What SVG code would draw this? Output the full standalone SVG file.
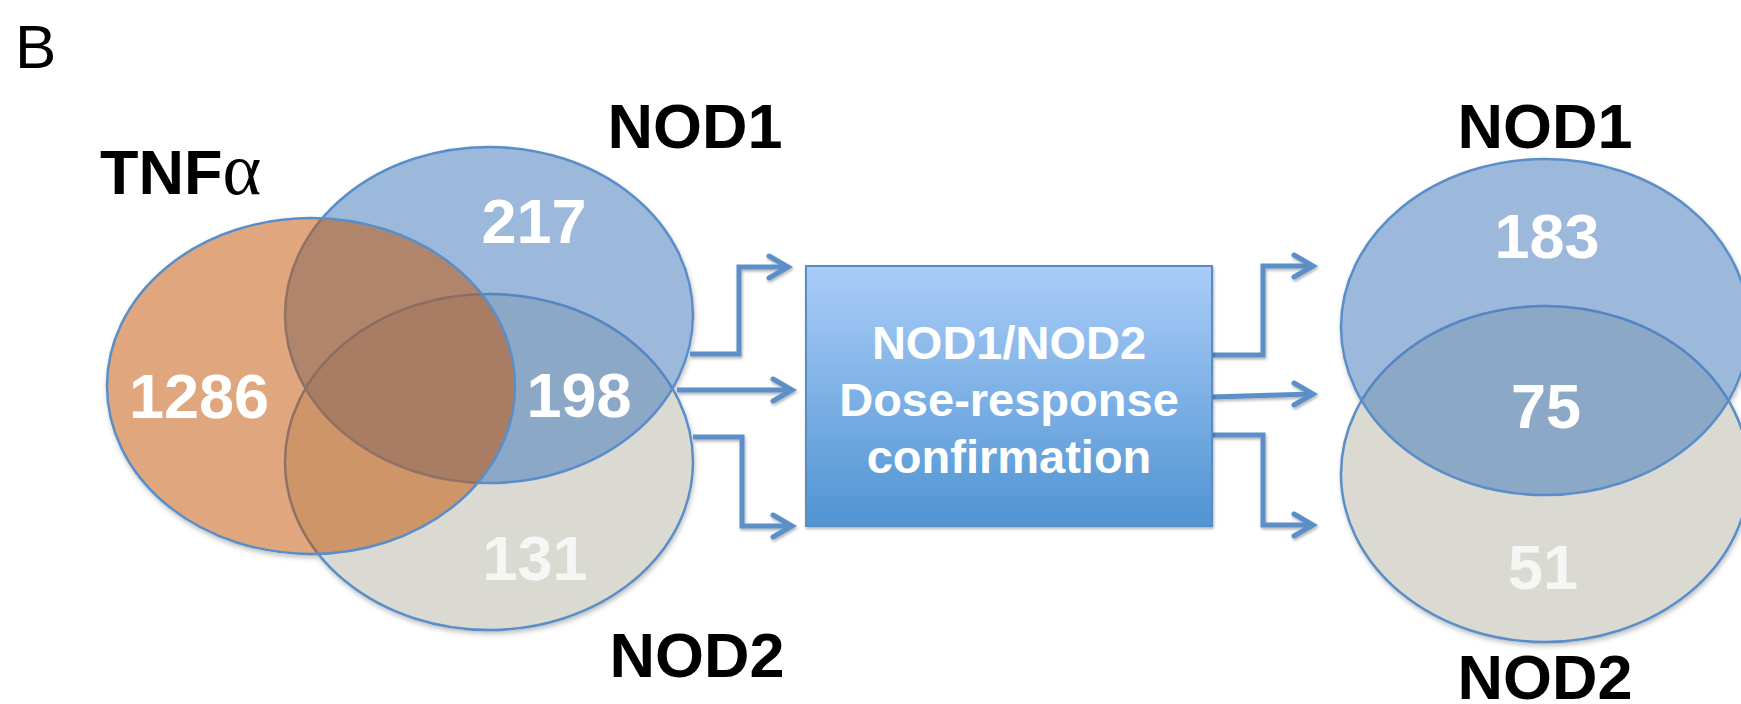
<svg xmlns="http://www.w3.org/2000/svg" width="1741" height="704" viewBox="0 0 1741 704">
<defs>
<linearGradient id="boxGrad" x1="0" y1="0" x2="0" y2="1">
<stop offset="0" stop-color="#aacdf8"/>
<stop offset="1" stop-color="#5094d2"/>
</linearGradient>
<filter id="shadow" x="-10%" y="-10%" width="125%" height="125%">
<feDropShadow dx="1" dy="3" stdDeviation="2.5" flood-color="#000" flood-opacity="0.25"/>
</filter>
<filter id="lshadow" x="-10%" y="-10%" width="125%" height="125%">
<feDropShadow dx="1" dy="2" stdDeviation="1.5" flood-color="#000" flood-opacity="0.3"/>
</filter>
</defs>
<style>
.lbl{font-family:"Liberation Sans",Arial,sans-serif;font-weight:bold;font-size:63px;fill:#000;text-anchor:middle}
.num{font-family:"Liberation Sans",Arial,sans-serif;font-weight:bold;font-size:63px;fill:#fff;text-anchor:middle}
.faint{fill:#f6f6f4}
.base{fill:#fff}
.ell{stroke:#5a8ec8;stroke-width:2.5}
.n1{fill:#4f81bd;fill-opacity:0.56}
.n2{fill:#dadad3}
.tnf{fill:#c35607;fill-opacity:0.52}
.conn{fill:none;stroke:#5b8fc7;stroke-width:5;stroke-linejoin:miter}
.head{fill:none;stroke:#5b8fc7;stroke-width:5;stroke-linecap:round;stroke-linejoin:miter}
.box{fill:url(#boxGrad);stroke:#5a8cc4;stroke-width:2}
.boxtxt{font-family:"Liberation Sans",Arial,sans-serif;font-weight:bold;font-size:47px;fill:#fff;text-anchor:middle}
</style>
<rect width="1741" height="704" fill="#fff"/>
<text x="15" y="68" font-family="'Liberation Sans',Arial,sans-serif" font-size="62" fill="#000">B</text>

<g id="venn-left-shadow" filter="url(#shadow)">
<ellipse class="base" cx="489" cy="462" rx="205" ry="169"/>
<ellipse class="base" cx="489" cy="315" rx="205" ry="169"/>
<ellipse class="base" cx="311" cy="386" rx="205" ry="169"/>
</g>
<g id="venn-left">
<g id="nod2-left"><ellipse class="ell n2" cx="489" cy="462" rx="204" ry="168"/></g>
<g id="nod1-left"><ellipse class="ell n1" cx="489" cy="315" rx="204" ry="168"/></g>
<g id="tnf"><ellipse class="ell tnf" cx="311" cy="386" rx="204" ry="168"/></g>
</g>
<g id="venn-left-labels">
<text x="100" y="194" font-family="'Liberation Sans',Arial,sans-serif" font-weight="bold" font-size="63" fill="#000">TNF<tspan font-family="'Liberation Serif','Times New Roman',serif" font-weight="normal" font-size="74">α</tspan></text>
<text class="lbl" x="695" y="148">NOD1</text>
<text class="lbl" x="697" y="677">NOD2</text>
<text class="num" x="534" y="243">217</text>
<text class="num" x="199" y="418">1286</text>
<text class="num" x="579" y="417">198</text>
<text class="num faint" x="535" y="580">131</text>
</g>

<g id="connectors" filter="url(#lshadow)">
<path class="conn" d="M690,354 H739 V267 H786"/>
<path class="head" d="M769,256 L788,267 L769,278"/>
<path class="conn" d="M677,390 H790"/>
<path class="head" d="M773,379 L792,390 L773,401"/>
<path class="conn" d="M693,437 H742 V526 H790"/>
<path class="head" d="M773,515 L792,526 L773,537"/>
<path class="conn" d="M1213,355 H1263 V266 H1311"/>
<path class="head" d="M1294,255 L1313,266 L1294,277"/>
<path class="conn" d="M1213,397 L1311,394"/>
<path class="head" d="M1294,383 L1313,394 L1294,405"/>
<path class="conn" d="M1213,435 H1263 V525 H1311"/>
<path class="head" d="M1294,514 L1313,525 L1294,536"/>
</g>

<g id="confirmation-box">
<rect class="box" x="806" y="266" width="406" height="260" filter="url(#lshadow)"/>
<text class="boxtxt" x="1009" y="359">NOD1/NOD2</text>
<text class="boxtxt" x="1009" y="416">Dose-response</text>
<text class="boxtxt" x="1009" y="473">confirmation</text>
</g>

<g id="venn-right-shadow" filter="url(#shadow)">
<ellipse class="base" cx="1545" cy="474" rx="205" ry="169"/>
<ellipse class="base" cx="1545" cy="327" rx="205" ry="169"/>
</g>
<g id="venn-right">
<g id="nod2-right"><ellipse class="ell n2" cx="1545" cy="474" rx="204" ry="168"/></g>
<g id="nod1-right"><ellipse class="ell n1" cx="1545" cy="327" rx="204" ry="168"/></g>
</g>
<g id="venn-right-labels">
<text class="lbl" x="1545" y="148">NOD1</text>
<text class="lbl" x="1545" y="699">NOD2</text>
<text class="num" x="1547" y="258">183</text>
<text class="num" x="1546" y="428">75</text>
<text class="num faint" x="1543" y="589">51</text>
</g>
</svg>
